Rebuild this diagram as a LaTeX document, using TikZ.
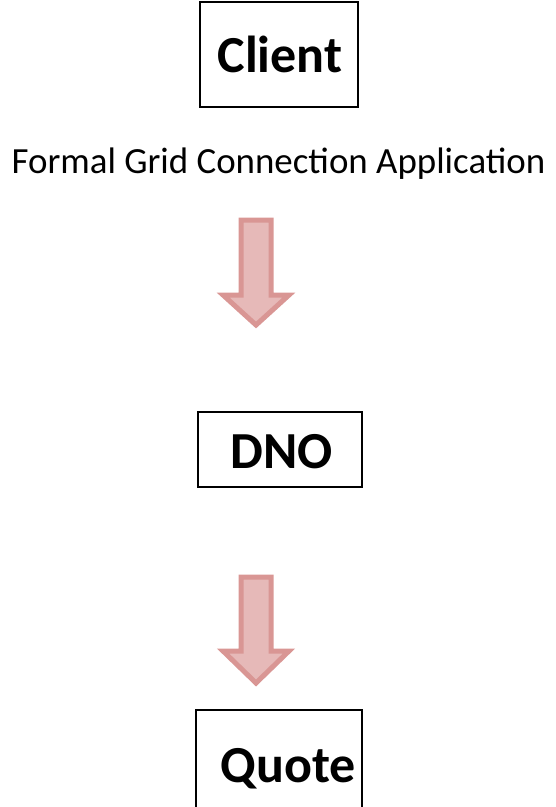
\documentclass[tikz,border=0pt]{standalone}
\usepackage{fontspec}
\setmainfont{Carlito}
\definecolor{arrowfill}{HTML}{E6B9B8}
\definecolor{arrowline}{HTML}{D99694}
\tikzset{
  box/.style={draw=black, line width=1.3pt, inner sep=0pt},
  boxtext/.style={anchor=base, inner sep=0pt, font=\fontsize{52}{60}\selectfont\bfseries},
  labeltext/.style={anchor=base, inner sep=0pt, font=\fontsize{36.9}{42}\selectfont},
  blockarrow/.style={fill=arrowfill, draw=arrowline, line width=5pt, line join=miter}
}
\begin{document}
\begin{tikzpicture}[x=1pt,y=-1pt]
\useasboundingbox (0,0) rectangle (556,807);
\clip (0,0) rectangle (556,807);
% boxes
\draw[box] (200,2) rectangle (358,107);
\node[boxtext] (client) at (280,72) {Client};
\node[labeltext] (formal) at (278.5,173) {Formal Grid Connection Application};
\draw[blockarrow] (241,220) -- (271,220) -- (271,295) -- (289,295) -- (256,325) -- (223,295) -- (241,295) -- cycle;
\draw[box] (198,412) rectangle (362,487);
\node[boxtext] (dno) at (282,468) {DNO};
\draw[blockarrow] (241,577) -- (271,577) -- (271,651) -- (289,651) -- (256,683) -- (223,651) -- (241,651) -- cycle;
\draw[box] (196,710) rectangle (362,830);
\node[boxtext] (quote) at (288,782) {Quote};
\end{tikzpicture}
\end{document}
